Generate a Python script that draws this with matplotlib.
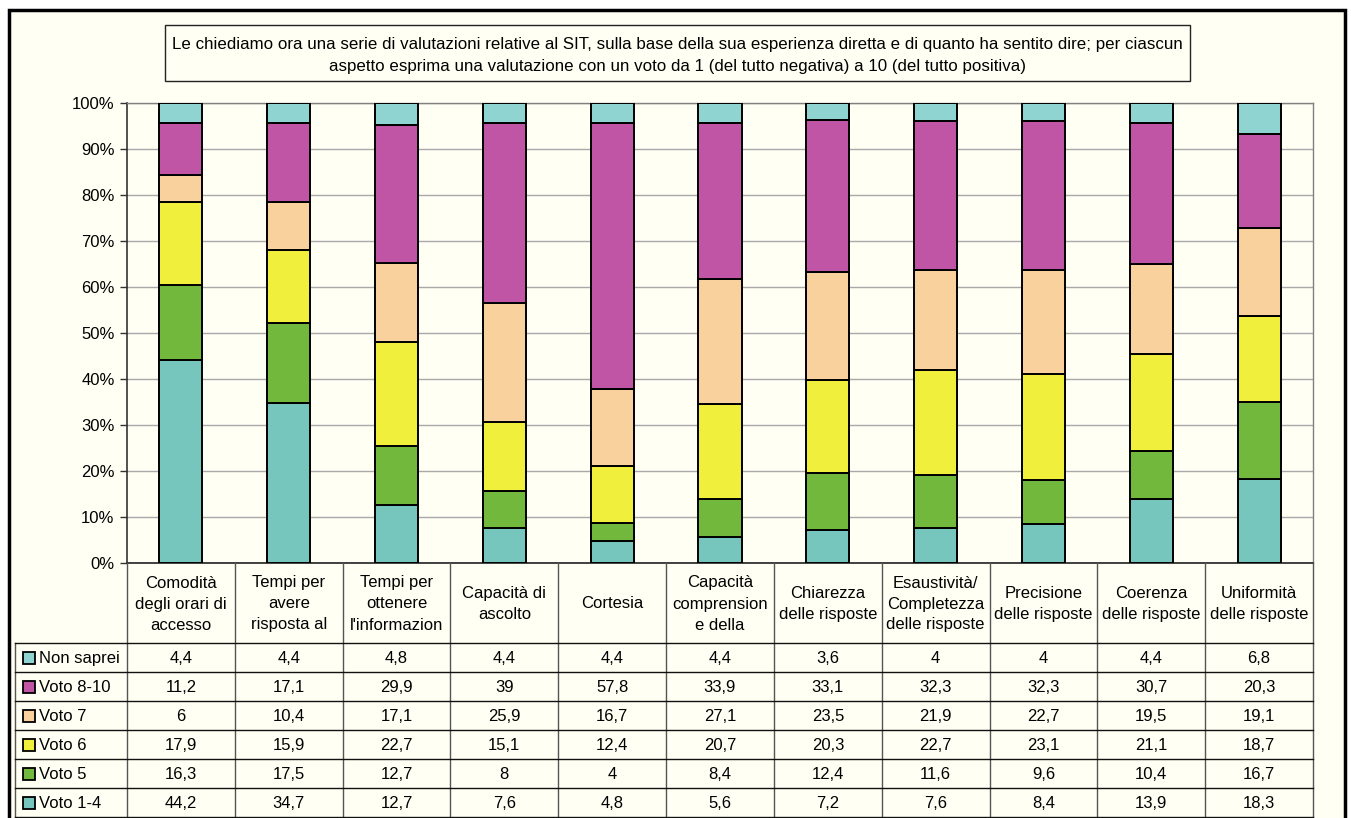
import matplotlib
matplotlib.use("Agg")
import matplotlib.pyplot as plt
from matplotlib.patches import Rectangle
from matplotlib.lines import Line2D
import numpy as np

plt.rcParams['font.family'] = ['Liberation Sans', 'DejaVu Sans']

title_lines = [
    "Le chiediamo ora una serie di valutazioni relative al SIT, sulla base della sua esperienza diretta e di quanto ha sentito dire; per ciascun",
    "aspetto esprima una valutazione con un voto da 1 (del tutto negativa) a 10 (del tutto positiva)",
]

categories = [
    "Comodità\ndegli orari di\naccesso",
    "Tempi per\navere\nrisposta al",
    "Tempi per\nottenere\nl'informazion",
    "Capacità di\nascolto",
    "Cortesia",
    "Capacità\ncomprension\ne della",
    "Chiarezza\ndelle risposte",
    "Esaustività/\nCompletezza\ndelle risposte",
    "Precisione\ndelle risposte",
    "Coerenza\ndelle risposte",
    "Uniformità\ndelle risposte",
]

series_names = ["Non saprei", "Voto 8-10", "Voto 7", "Voto 6", "Voto 5", "Voto 1-4"]

non_saprei = [4.4, 4.4, 4.8, 4.4, 4.4, 4.4, 3.6, 4, 4, 4.4, 6.8]
voto_8_10 = [11.2, 17.1, 29.9, 39, 57.8, 33.9, 33.1, 32.3, 32.3, 30.7, 20.3]
voto_7 = [6, 10.4, 17.1, 25.9, 16.7, 27.1, 23.5, 21.9, 22.7, 19.5, 19.1]
voto_6 = [17.9, 15.9, 22.7, 15.1, 12.4, 20.7, 20.3, 22.7, 23.1, 21.1, 18.7]
voto_5 = [16.3, 17.5, 12.7, 8, 4, 8.4, 12.4, 11.6, 9.6, 10.4, 16.7]
voto_1_4 = [44.2, 34.7, 12.7, 7.6, 4.8, 5.6, 7.2, 7.6, 8.4, 13.9, 18.3]

series_values = [non_saprei, voto_8_10, voto_7, voto_6, voto_5, voto_1_4]
series_colors = ["#90D4D2", "#C055A6", "#F9D19C", "#F0F03C", "#72B83C", "#76C6BD"]

W, H = 1351, 818
CREAM = "#FFFFF4"


def fx(x):
    return x / W


def fy(y):
    return 1 - y / H


fig = plt.figure(figsize=(W / 100, H / 100), dpi=100, facecolor="white")

# outer frame
fig.patches.append(Rectangle((fx(8.5), fy(840)), fx(1345) - fx(8.5), fy(9.5) - fy(840),
                             transform=fig.transFigure, facecolor=CREAM,
                             edgecolor="black", linewidth=2.5, zorder=-5))

# title box
fig.patches.append(Rectangle((fx(165), fy(81)), fx(1190) - fx(165), fy(25) - fy(81),
                             transform=fig.transFigure, facecolor=CREAM,
                             edgecolor="#222222", linewidth=1.0, zorder=1))
fig.text(fx(677.5), fy(44), title_lines[0], ha="center", va="center", fontsize=12.2, zorder=2)
fig.text(fx(677.5), fy(66), title_lines[1], ha="center", va="center", fontsize=12.2, zorder=2)

# plot area
x_left, x_right = 127, 1313
y_top, y_bot = 103, 563
ax = fig.add_axes([fx(x_left), fy(y_bot), fx(x_right) - fx(x_left), fy(y_top) - fy(y_bot)])
ax.set_facecolor(CREAM)
ax.set_zorder(1)

n = len(categories)
x = np.arange(n)
totals = np.sum(np.array(series_values), axis=0)
stack_order = list(range(len(series_names)))[::-1]  # bottom: Voto 1-4 ... top: Non saprei
bottom = np.zeros(n)
for idx in stack_order:
    vals = np.array(series_values[idx]) / totals * 100
    ax.bar(x, vals, width=0.4, bottom=bottom, color=series_colors[idx],
           edgecolor="black", linewidth=1.4, zorder=3)
    bottom += vals

ax.set_xlim(-0.5, n - 0.5)
ax.set_ylim(0, 100)
ax.set_yticks(np.arange(0, 101, 10))
ax.set_yticklabels([f"{v}%" for v in range(0, 101, 10)], fontsize=12)
ax.set_xticks([])
ax.grid(axis="y", color="#A8A8A8", linewidth=1.0, zorder=0)
ax.set_axisbelow(True)
ax.tick_params(axis="y", length=5, width=1, color="#333333", pad=4)
for side in ["top", "right"]:
    ax.spines[side].set_color("#808080")
    ax.spines[side].set_linewidth(1.0)
ax.spines["left"].set_color("#333333")
ax.spines["left"].set_linewidth(1.2)
ax.spines["bottom"].set_color("#222222")
ax.spines["bottom"].set_linewidth(1.2)

# data table below the plot
col_w = (x_right - x_left) / n
header_bot = 643
row_h = 29
legend_left = 15
table_bottom = header_bot + row_h * len(series_names)


def hline(x0, x1, y, color="black", lw=1.0):
    fig.lines.append(Line2D([fx(x0), fx(x1)], [fy(y), fy(y)], transform=fig.transFigure,
                            color=color, linewidth=lw, zorder=2))


def vline(x, y0, y1, color="#555555", lw=1.0):
    fig.lines.append(Line2D([fx(x), fx(x)], [fy(y0), fy(y1)], transform=fig.transFigure,
                            color=color, linewidth=lw, zorder=2))


# header row (category names)
for i in range(n + 1):
    vline(x_left + i * col_w, y_bot, table_bottom + 5)
vline(legend_left, header_bot, table_bottom + 5)
for r in range(len(series_names)):
    hline(legend_left, x_right, header_bot + r * row_h, color="#111111")
hline(legend_left, x_right, table_bottom, color="#111111")

for i, cat in enumerate(categories):
    cx = x_left + (i + 0.5) * col_w
    fig.text(fx(cx), fy((y_bot + header_bot) / 2 + 1), cat, ha="center", va="center",
             fontsize=12, linespacing=1.5, multialignment="center")

for r, name in enumerate(series_names):
    cy = header_bot + (r + 0.5) * row_h
    fig.patches.append(Rectangle((fx(23), fy(cy + 6)), fx(12), 12 / H,
                                 transform=fig.transFigure, facecolor=series_colors[r],
                                 edgecolor="black", linewidth=1.3, zorder=3))
    fig.text(fx(39), fy(cy + 1), name, ha="left", va="center", fontsize=12)
    for i, v in enumerate(series_values[r]):
        cx = x_left + (i + 0.5) * col_w
        fig.text(fx(cx), fy(cy + 1), f"{v:g}".replace(".", ","), ha="center", va="center",
                 fontsize=12)

fig.savefig("out.png", dpi=100, facecolor="white")
